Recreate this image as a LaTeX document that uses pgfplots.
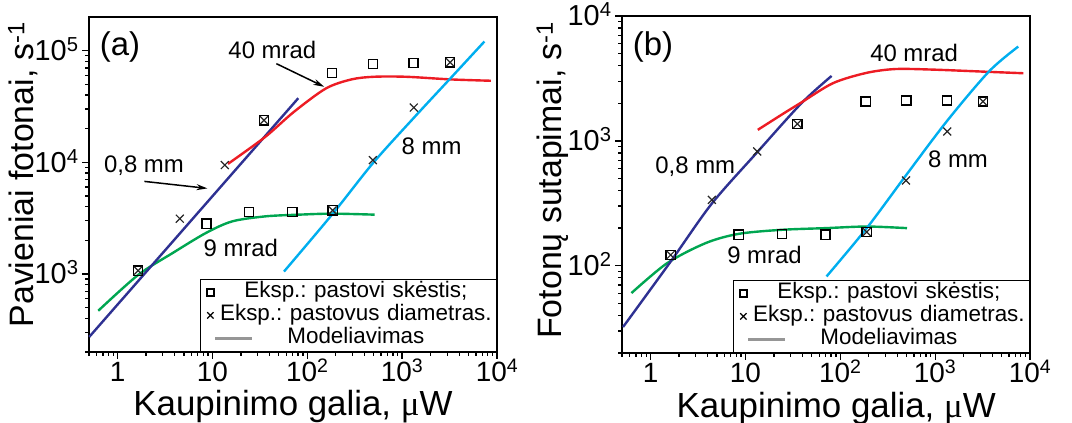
\documentclass[border=0pt]{standalone}
\usepackage{fontspec}
\setmainfont{Liberation Sans}
\newfontfamily\symfont{Liberation Serif}
\usepackage{pgfplots}
\pgfplotsset{compat=1.18}
\usetikzlibrary{arrows.meta}

\newcommand\fs[1]{\fontsize{#1}{#1}\selectfont}
\newcommand\pw[1]{10\smash{\textsuperscript{#1}}}

\definecolor{navyline}{RGB}{46,49,146}
\definecolor{redline}{RGB}{237,28,36}
\definecolor{greenline}{RGB}{0,166,81}
\definecolor{cyanline}{RGB}{0,174,239}
\definecolor{legendgray}{RGB}{150,150,150}

\tikzset{
  annot/.style={font=\fs{24}, inner sep=0pt},
  arr/.style={-{Stealth[length=11bp,width=6bp]}, line width=1.5bp, black},
}

\pgfplotsset{
  mypanel/.style={
    scale only axis, width=408bp,
    xmin=0.5, xmax=1e4,
    xtick={1,10,100,1000,10000},
    xticklabels={1,10,\pw{2},\pw{3},\pw{4}},
    minor xtick={0.5,0.6,0.7,0.8,0.9,2,3,4,5,6,7,8,9,20,30,40,50,60,70,80,90,
                 200,300,400,500,600,700,800,900,2000,3000,4000,5000,6000,7000,8000,9000},
    tick align=outside, tick pos=left,
    major tick length=7bp, minor tick length=4bp,
    tick style={black, line width=1.3bp},
    axis line style={line width=1.8bp},
    xticklabel style={font=\fs{28}},
    yticklabel style={font=\fs{29}},
    xlabel={Kaupinimo galia, {\symfont μ}W},
    clip=false,
    legend style={
      at={(1,0)}, anchor=south east,
      draw=black, line width=1.2bp, fill=white,
      font=\fs{22.5},
      inner xsep=2bp, inner ysep=1.5bp,
      nodes={inner sep=0.5bp, text height=16.5bp, text depth=5.5bp,
             text width=276bp, align=center},
      row sep=0bp, column sep=1bp,
    },
  },
  sqleg/.style={legend image code/.code={
    \path[draw=none] (-8bp,0bp) -- (6bp,0bp);
    \draw[black, line width=1.3bp] plot[only marks, mark=square, mark size=3.5bp] coordinates {(0bp,0bp)};}},
  xleg/.style={legend image code/.code={
    \path[draw=none] (-8bp,0bp) -- (6bp,0bp);
    \draw[black, line width=1.1bp] plot[only marks, mark=x, mark size=4.5bp] coordinates {(0bp,0bp)};}},
  lineleg/.style={legend image code/.code={
    \path[draw=none] (-8bp,0bp) -- (6bp,0bp);
    \draw[legendgray, line width=2.4bp, overlay] (5bp,0bp) -- (42bp,0bp);}},
}

\begin{document}
\frenchspacing
\begin{tikzpicture}
\path[use as bounding box] (0,0) rectangle (1072bp,423bp);

% ---------- (a) single photons ----------
\begin{loglogaxis}[mypanel,
  at={(89bp,71bp)}, anchor=south west, height=335bp,
  ymin=200, ymax=2e5,
  ytick={1000,10000,100000},
  yticklabels={\pw{3},\pw{4},\pw{5}},
  minor ytick={200,300,400,500,600,700,800,900,2000,3000,4000,5000,6000,7000,8000,9000,
               20000,30000,40000,50000,60000,70000,80000,90000},
  xlabel style={font=\fs{35}, at={(axis description cs:0.5,-0.19)}, anchor=base},
  ylabel={Pavieniai fotonai, s\textsuperscript{-1}},
  ylabel style={font=\fs{34}, at={(axis description cs:-0.162,0.53)}, anchor=center},
]
% model curves
\addplot[no marks, line width=2.4bp, smooth, greenline, forget plot] coordinates {
  (0.626,468) (1.65,980) (3.79,1535) (8.51,2323) (16.2,2957)
  (36.4,3280) (81.7,3395) (183,3467) (512,3395)};
\addplot[no marks, line width=2.4bp, navyline, forget plot] coordinates {
  (0.503,273) (80.4,37500)};
\addplot[no marks, line width=2.4bp, smooth, redline, forget plot] coordinates {
  (14.6,9680) (35.8,16800) (72,28200) (157,45800) (292,55200)
  (504,58300) (1099,58300) (3265,55200) (8630,53700)};
\addplot[no marks, line width=2.4bp, smooth, cyanline, forget plot] coordinates {
  (56.8,1050) (185,3450) (491,9800) (1327,25000) (3200,56000) (7360,120500)};
% measurements
\addplot[only marks, mark=square, mark size=4.6bp, black, mark options={line width=1.4bp}, sqleg]
  coordinates {
  (1.65,1070) (8.65,2820) (24.3,3590) (69.5,3590) (185,3715)
  (35,23800) (183,63000) (495,75900) (1316,77400) (3200,78500)};
\addlegendentry{Eksp.: pastovi skėstis;}
\addplot[only marks, mark=x, mark size=5.6bp, black!85, mark options={line width=1.2bp}, xleg]
  coordinates {
  (1.65,1070) (4.53,3126) (13.5,9440) (35,23800)
  (185,3715) (491,10450) (1327,30900) (3200,78500)};
\addlegendentry{Eksp.: pastovus diametras.}
\addlegendimage{lineleg}
\addlegendentry{Modeliavimas}
% labels
\node[font=\fs{33}] at (axis description cs:0.076,0.91) {(a)};
\node[annot] at (axis cs:42.8,1.02e5) {40 mrad};
\draw[arr] (axis cs:47.2,76400) -- (axis cs:151,47400);
\node[annot] at (axis cs:1.90,9400) {0,8 mm};
\draw[arr] (axis cs:1.92,6740) -- (axis cs:8.86,5836);
\node[annot] at (axis cs:19.95,1714) {9 mrad};
\node[annot] at (axis cs:2045,13800) {8 mm};
\end{loglogaxis}

% ---------- (b) photon coincidences ----------
\begin{loglogaxis}[mypanel,
  at={(622bp,70bp)}, anchor=south west, height=337bp,
  ymin=20, ymax=1e4,
  ytick={100,1000,10000},
  yticklabels={\pw{2},\pw{3},\pw{4}},
  minor ytick={20,30,40,50,60,70,80,90,200,300,400,500,600,700,800,900,
               2000,3000,4000,5000,6000,7000,8000,9000},
  xlabel style={font=\fs{35}, at={(axis description cs:0.525,-0.19)}, anchor=base},
  ylabel={Fotonų sutapimai, s\textsuperscript{-1}},
  ylabel style={font=\fs{34}, at={(axis description cs:-0.17,0.513)}, anchor=center},
]
\addplot[no marks, line width=2.4bp, smooth, greenline, forget plot] coordinates {
  (0.629,60.4) (1.5,105) (3.83,152) (8.5,180) (24.3,194)
  (70,200) (190,206) (505,200)};
\addplot[no marks, line width=2.4bp, smooth, navyline, forget plot] coordinates {
  (0.513,32.3) (1.63,108) (4.43,315) (13.3,810) (38.9,2000) (81,3311)};
\addplot[no marks, line width=2.4bp, smooth, redline, forget plot] coordinates {
  (13.5,1225) (25,1650) (38.9,2030) (84,2900) (188,3500)
  (380,3760) (950,3720) (4000,3560) (8500,3480)};
\addplot[no marks, line width=2.4bp, smooth, cyanline, forget plot] coordinates {
  (71.6,82) (190,200) (493,530) (1341,1450) (3700,3600) (7520,5690)};
\addplot[only marks, mark=square, mark size=4.6bp, black, mark options={line width=1.4bp}, sqleg]
  coordinates {
  (1.63,122) (8.5,177) (24.3,179) (70,177) (190,186)
  (35.3,1368) (185,2066) (497,2105) (1330,2105) (3200,2066)};
\addlegendentry{Eksp.: pastovi skėstis;}
\addplot[only marks, mark=x, mark size=5.6bp, black!85, mark options={line width=1.2bp}, xleg]
  coordinates {
  (1.63,122) (4.43,337) (13.3,822) (35.3,1368)
  (190,186) (493,482) (1341,1189) (3200,2066)};
\addlegendentry{Eksp.: pastovus diametras.}
\addlegendimage{lineleg}
\addlegendentry{Modeliavimas}
\node[font=\fs{33}] at (axis description cs:0.076,0.908) {(b)};
\node[annot] at (axis cs:600,5060) {40 mrad};
\node[annot] at (axis cs:2.96,618) {0,8 mm};
\node[annot] at (axis cs:15.9,122) {9 mrad};
\node[annot] at (axis cs:1742,716) {8 mm};
\end{loglogaxis}
\end{tikzpicture}
\end{document}
